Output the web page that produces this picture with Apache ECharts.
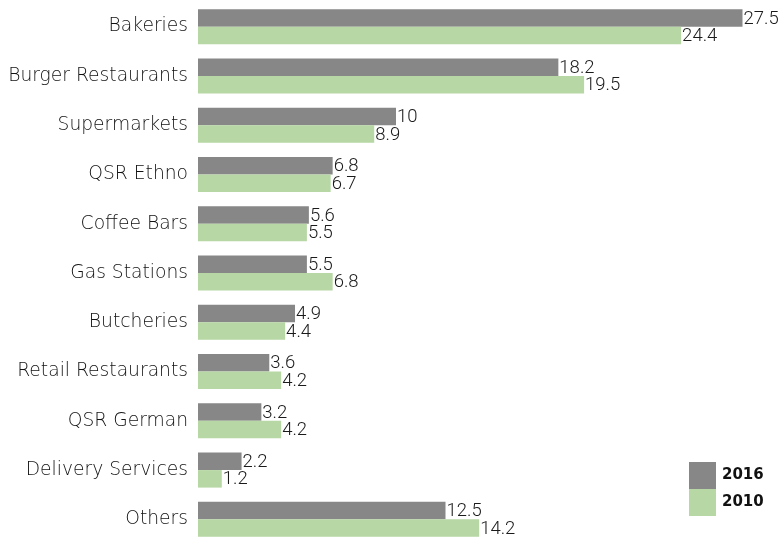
<!DOCTYPE html>
<html><head><meta charset="utf-8">
<script src="https://cdn.jsdelivr.net/npm/echarts@6/dist/echarts.min.js"></script>
<style>html,body{margin:0;padding:0;background:#fff}#c{width:782px;height:544px}</style>
</head><body><div id="c"></div>
<script>
const categories = ["Bakeries","Burger Restaurants","Supermarkets","QSR Ethno","Coffee Bars","Gas Stations","Butcheries","Retail Restaurants","QSR German","Delivery Services","Others"];
const values2016 = [27.5,18.2,10,6.8,5.6,5.5,4.9,3.6,3.2,2.2,12.5];
const values2010 = [24.4,19.5,8.9,6.7,5.5,6.8,4.4,4.2,4.2,1.2,14.2];
const seriesNames = ["2016","2010"];
const FONT = "DejaVu Sans";
const VFONT = "Roboto";
const chart = echarts.init(document.getElementById('c'));
const lbl = {show:true, position:'right', distance:1, offset:[0,1], color:'#1a1a1a', fontFamily:VFONT, fontWeight:300, fontSize:18.5};
chart.setOption({
  animation:false,
  grid:{left:198, top:2, width:554.4, height:545, containLabel:false},
  legend:{orient:'vertical', left:689, top:462, padding:0, itemWidth:27, itemHeight:27, itemGap:0, icon:'rect',
    textStyle:{fontFamily:FONT, fontSize:15, fontWeight:'bold', color:'#111', padding:[0,0,0,1]},
    data:seriesNames},
  xAxis:{type:'value', min:0, max:28, show:false},
  yAxis:{type:'category', inverse:true, data:categories,
    axisLine:{show:false}, axisTick:{show:false},
    axisLabel:{margin:10, color:'#111', fontFamily:FONT, fontWeight:200, fontSize:18.7, padding:[2,0,0,0]}},
  series:[
    {name:seriesNames[0], type:'bar', data:values2016, itemStyle:{color:'#878788'}, barWidth:17.5, barGap:'0%', barCategoryGap:'29%', label:lbl},
    {name:seriesNames[1], type:'bar', data:values2010, itemStyle:{color:'#b7d7a4'}, barWidth:17.5, barGap:'0%', label:lbl}
  ]
});
</script></body></html>
